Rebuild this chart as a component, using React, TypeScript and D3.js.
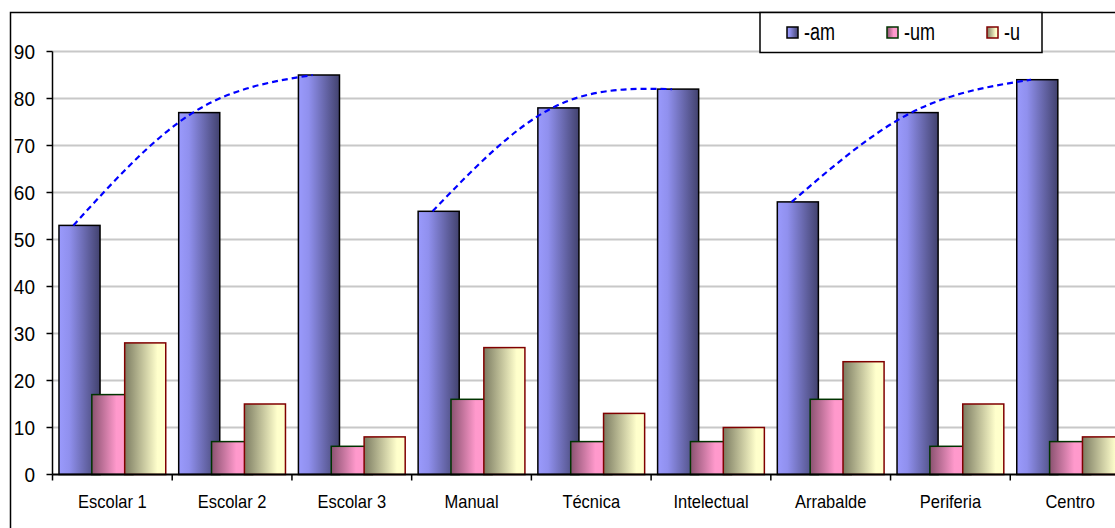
import { useEffect, useRef } from 'react'
import * as d3 from 'd3'

const categories = ['Escolar 1', 'Escolar 2', 'Escolar 3', 'Manual', 'Técnica', 'Intelectual', 'Arrabalde', 'Periferia', 'Centro']
const amValues = [53, 77, 85, 56, 78, 82, 58, 77, 84]
const umValues = [17, 7, 6, 16, 7, 7, 16, 6, 7]
const uValues = [28, 15, 8, 27, 13, 10, 24, 15, 8]
const seriesNames = ['-am', '-um', '-u']
const yTicks = [0, 10, 20, 30, 40, 50, 60, 70, 80, 90]
// groups of three categories joined by the dashed curve
const curveGroups = [[0, 1, 2], [3, 4, 5], [6, 7, 8]]

const W = 1115
const H = 528

export default function App() {
  const ref = useRef<SVGSVGElement>(null)

  useEffect(() => {
    const node = ref.current
    if (!node) return
    const svg = d3.select(node)
    svg.selectAll('*').remove()

    const x = d3.scaleBand<string>().domain(categories).range([52.5, 1130]).paddingInner(0).paddingOuter(0)
    const y = d3.scaleLinear().domain([0, 90]).range([474.5, 51.5])
    const step = x.bandwidth()
    const bw = step * 0.343
    const gap = (step - bw * 2.6) / 2

    const defs = svg.append('defs')
    function grad(id: string, stops: [number, string][]) {
      const g = defs.append('linearGradient').attr('id', id).attr('x1', '0%').attr('x2', '100%').attr('y1', '0%').attr('y2', '0%')
      stops.forEach(([o, c]) => g.append('stop').attr('offset', o + '%').attr('stop-color', c))
    }
    grad('gAm', [[0, '#9a9afc'], [25, '#9090ee'], [100, '#42426e']])
    grad('gUm', [[0, '#8a5270'], [60, '#ff99cc'], [100, '#ff9acc']])
    grad('gU', [[0, '#7c7c62'], [80, '#ffffcc'], [100, '#ffffcc']])

    const series = [
      { name: seriesNames[0], values: amValues, fill: 'url(#gAm)', stroke: '#000000' },
      { name: seriesNames[1], values: umValues, fill: 'url(#gUm)', stroke: '#003300' },
      { name: seriesNames[2], values: uValues, fill: 'url(#gU)', stroke: '#800000' },
    ]

    // frame
    svg.append('rect').attr('x', 10.5).attr('y', 12.5).attr('width', 1130).attr('height', 540)
      .attr('fill', '#fff').attr('stroke', '#000').attr('stroke-width', 1.5)

    // gridlines
    svg.append('g').selectAll('line').data(yTicks.filter(t => t > 0)).enter().append('line')
      .attr('x1', 52.5).attr('x2', W).attr('y1', d => y(d)).attr('y2', d => y(d))
      .attr('stroke', '#c8c8c8').attr('stroke-width', 2)

    // bars
    series.forEach((s, si) => {
      svg.append('g').selectAll('rect').data(s.values).enter().append('rect')
        .attr('x', (d, i) => (x(categories[i]) as number) + gap + si * bw * 0.8)
        .attr('y', d => y(d))
        .attr('width', bw)
        .attr('height', d => y(0) - y(d))
        .attr('fill', s.fill)
        .attr('stroke', s.stroke)
        .attr('stroke-width', 1.5)
    })

    // dashed curves over the tops of -am bars
    const line = d3.line<number>()
      .x(i => (x(categories[i]) as number) + gap + bw * 0.35)
      .y(i => y(amValues[i]))
      .curve(d3.curveNatural)
    curveGroups.forEach(grp => {
      svg.append('path').attr('d', line(grp) as string)
        .attr('fill', 'none').attr('stroke', '#0000ff').attr('stroke-width', 2.2).attr('stroke-dasharray', '6,4')
    })

    // y axis
    const ya = svg.append('g')
    ya.append('line').attr('x1', 52.5).attr('x2', 52.5).attr('y1', y(90)).attr('y2', y(0)).attr('stroke', '#000').attr('stroke-width', 1.5)
    ya.selectAll('line.t').data(yTicks).enter().append('line').attr('class', 't')
      .attr('x1', 46.5).attr('x2', 52.5).attr('y1', d => y(d)).attr('y2', d => y(d)).attr('stroke', '#000').attr('stroke-width', 1.5)
    ya.selectAll('text').data(yTicks).enter().append('text')
      .attr('transform', d => `translate(35,${y(d)}) scale(1,1.08)`)
      .attr('text-anchor', 'end').attr('dy', '0.36em')
      .attr('font-family', 'Liberation Sans, Arial, sans-serif').attr('font-size', 19).attr('fill', '#000')
      .text(d => d)

    // x axis
    const xa = svg.append('g')
    xa.append('line').attr('x1', 52.5).attr('x2', W).attr('y1', y(0)).attr('y2', y(0)).attr('stroke', '#000').attr('stroke-width', 2)
    xa.selectAll('line.t').data(categories).enter().append('line').attr('class', 't')
      .attr('x1', d => x(d) as number).attr('x2', d => x(d) as number)
      .attr('y1', y(0)).attr('y2', y(0) + 6).attr('stroke', '#000').attr('stroke-width', 1.5)
    xa.selectAll('text').data(categories).enter().append('text')
      .attr('transform', d => `translate(${(x(d) as number) + step / 2},508) scale(1,1.15)`)
      .attr('text-anchor', 'middle')
      .attr('font-family', 'Liberation Sans, Arial, sans-serif').attr('font-size', 16.5).attr('fill', '#000')
      .text(d => d)

    // legend
    const lg = svg.append('g')
    lg.append('rect').attr('x', 760).attr('y', 12.5).attr('width', 282).attr('height', 40)
      .attr('fill', '#fff').attr('stroke', '#000').attr('stroke-width', 1.5)
    series.forEach((s, i) => {
      const lx = 787 + i * 100
      lg.append('rect').attr('x', lx).attr('y', 27).attr('width', 11).attr('height', 11)
        .attr('fill', s.fill).attr('stroke', s.stroke).attr('stroke-width', 1.5)
      lg.append('text').attr('transform', `translate(${lx + 17},39.5) scale(1,1.28)`)
        .attr('font-family', 'Liberation Sans, Arial, sans-serif').attr('font-size', 18).attr('fill', '#000')
        .text(s.name)
    })
  }, [])

  return (
    <svg ref={ref} width={W} height={H} viewBox={`0 0 ${W} ${H}`}
      style={{ position: 'absolute', left: 0, top: 0, background: '#fff', display: 'block' }} />
  )
}
